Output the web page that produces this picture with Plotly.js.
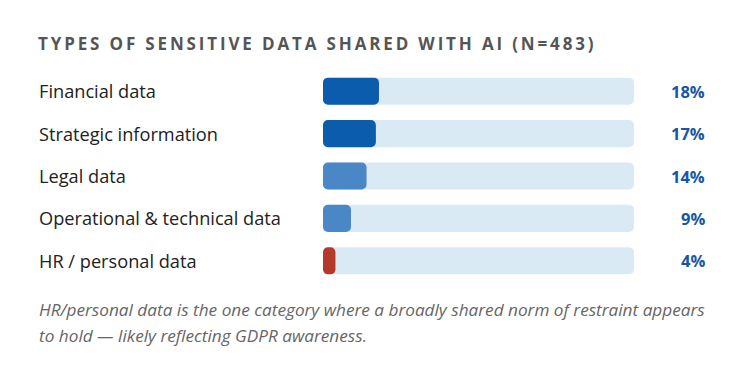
<!DOCTYPE html>
<html>
<head>
<meta charset="utf-8">
<script src="https://cdn.plot.ly/plotly-3.0.1.min.js"></script>
<style>
html,body{margin:0;padding:0;background:#fff;}
#chart{width:750px;height:389px;}
</style>
</head>
<body>
<div id="chart"></div>
<script>
const categories = ["Financial data", "Strategic information", "Legal data", "Operational & technical data", "HR / personal data"];
const values = [18, 17, 14, 9, 4];
const barColors = ["#0b5cad", "#0b5cad", "#4a87c6", "#4a87c6", "#b5382d"];
const trackValues = [100, 100, 100, 100, 100];
const titleText = "TYPES OF SENSITIVE DATA SHARED WITH AI (N=483)";
const captionLines = ["HR/personal data is the one category where a broadly shared norm of restraint appears",
                      "to hold — likely reflecting GDPR awareness."];

const FONT = "'Open Sans', 'Noto Sans', sans-serif";
const plotLeft = 323, plotRight = 634, plotTop = 70, plotBottom = 282;
const pw = plotRight - plotLeft, ph = plotBottom - plotTop;

const traces = [
  {type: "bar", orientation: "h", y: categories, x: trackValues, base: 0,
   marker: {color: "#d9eaf5", cornerradius: 5}, hoverinfo: "skip", showlegend: false},
  {type: "bar", orientation: "h", y: categories, x: values, base: 0,
   marker: {color: barColors, cornerradius: 5}, hoverinfo: "skip", showlegend: false}
];

const annotations = [];
categories.forEach((c, i) => {
  annotations.push({xref: "paper", yref: "y", x: (37 - plotLeft) / pw, y: c, xanchor: "left", yanchor: "middle",
    text: c, showarrow: false, font: {family: FONT, size: 18.2, color: "#222"}});
  annotations.push({xref: "paper", yref: "y", x: (707 - plotLeft) / pw, y: c, xanchor: "right", yanchor: "middle",
    text: values[i] + "%", showarrow: false, font: {family: FONT, size: 16.5, color: "#1557a4", weight: 700}});
});
const captionY = [309, 335];
captionLines.forEach((t, i) => {
  annotations.push({xref: "paper", yref: "paper", x: (37 - plotLeft) / pw, y: (plotBottom - captionY[i]) / ph,
    xanchor: "left", yanchor: "middle", align: "left", text: t, showarrow: false,
    font: {family: FONT, size: 17.2, color: "#666", style: "italic"}});
});

const layout = {
  width: 750, height: 389,
  margin: {l: plotLeft, r: 750 - plotRight, t: plotTop, b: 389 - plotBottom, pad: 0},
  paper_bgcolor: "#fff", plot_bgcolor: "#fff",
  barmode: "overlay", bargap: 0.36,
  title: {text: titleText, xref: "container", yref: "container", x: 38 / 750, xanchor: "left",
    y: 1 - 44 / 389, yanchor: "middle",
    font: {family: FONT, size: 17, color: "#555", weight: 700}},
  xaxis: {range: [0, 100], visible: false, fixedrange: true},
  yaxis: {autorange: "reversed", visible: false, fixedrange: true},
  annotations: annotations,
  hovermode: false
};

Plotly.newPlot("chart", traces, layout, {displayModeBar: false, staticPlot: true}).then(() => {
  document.querySelectorAll(".gtitle").forEach(t => t.style.letterSpacing = "2.85px");
});
</script>
</body>
</html>
